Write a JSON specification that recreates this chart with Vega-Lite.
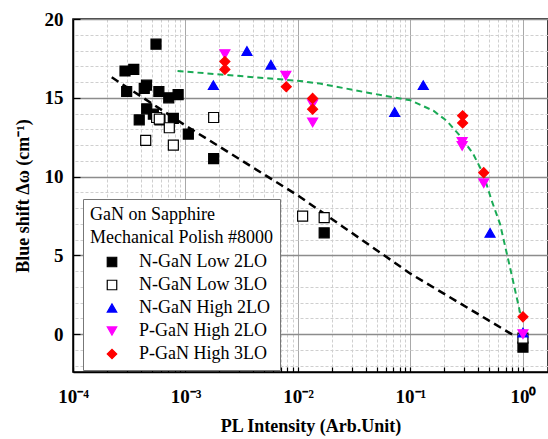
{
  "$schema": "https://vega.github.io/schema/vega-lite/v6.json",
  "width": 475,
  "height": 353,
  "autosize": "none",
  "padding": {"left": 73, "top": 19, "right": 0, "bottom": 67},
  "background": "white",
  "view": {"stroke": "black", "strokeWidth": 1.5},
  "resolve": {"axis": {"y": "independent"}},
  "datasets": {
    "pts": [
      {"series": "N-GaN Low 2LO", "x": 0.000547, "y": 18.4},
      {"series": "N-GaN Low 2LO", "x": 0.00029, "y": 16.7},
      {"series": "N-GaN Low 2LO", "x": 0.000347, "y": 16.8},
      {"series": "N-GaN Low 2LO", "x": 0.0003, "y": 15.4},
      {"series": "N-GaN Low 2LO", "x": 0.00043, "y": 15.6},
      {"series": "N-GaN Low 2LO", "x": 0.00045, "y": 15.8},
      {"series": "N-GaN Low 2LO", "x": 0.00058, "y": 15.4},
      {"series": "N-GaN Low 2LO", "x": 0.00071, "y": 15.0},
      {"series": "N-GaN Low 2LO", "x": 0.00086, "y": 15.2},
      {"series": "N-GaN Low 2LO", "x": 0.000452, "y": 14.3},
      {"series": "N-GaN Low 2LO", "x": 0.000388, "y": 13.6},
      {"series": "N-GaN Low 2LO", "x": 0.000518, "y": 13.96},
      {"series": "N-GaN Low 2LO", "x": 0.000593, "y": 13.6},
      {"series": "N-GaN Low 2LO", "x": 0.00078, "y": 13.7},
      {"series": "N-GaN Low 2LO", "x": 0.00106, "y": 12.7},
      {"series": "N-GaN Low 2LO", "x": 0.00178, "y": 11.14},
      {"series": "N-GaN Low 2LO", "x": 0.0171, "y": 6.43},
      {"series": "N-GaN Low 2LO", "x": 1.0, "y": -0.82},
      {"series": "N-GaN Low 3LO", "x": 0.000554, "y": 13.75},
      {"series": "N-GaN Low 3LO", "x": 0.000585, "y": 13.65},
      {"series": "N-GaN Low 3LO", "x": 0.000718, "y": 13.1},
      {"series": "N-GaN Low 3LO", "x": 0.000443, "y": 12.3},
      {"series": "N-GaN Low 3LO", "x": 0.00078, "y": 12.0},
      {"series": "N-GaN Low 3LO", "x": 0.00178, "y": 13.75},
      {"series": "N-GaN Low 3LO", "x": 0.011, "y": 7.49},
      {"series": "N-GaN Low 3LO", "x": 0.0171, "y": 7.4},
      {"series": "N-GaN Low 3LO", "x": 1.0, "y": -0.25},
      {"series": "N-GaN High 2LO", "x": 0.00177, "y": 15.8},
      {"series": "N-GaN High 2LO", "x": 0.00352, "y": 17.97},
      {"series": "N-GaN High 2LO", "x": 0.00575, "y": 17.1},
      {"series": "N-GaN High 2LO", "x": 0.0724, "y": 14.1},
      {"series": "N-GaN High 2LO", "x": 0.13, "y": 15.8},
      {"series": "N-GaN High 2LO", "x": 0.51, "y": 6.43},
      {"series": "N-GaN High 2LO", "x": 1.0, "y": 0.1},
      {"series": "P-GaN High 2LO", "x": 0.00224, "y": 17.77},
      {"series": "P-GaN High 2LO", "x": 0.0078, "y": 16.4},
      {"series": "P-GaN High 2LO", "x": 0.0135, "y": 14.6},
      {"series": "P-GaN High 2LO", "x": 0.0135, "y": 13.44},
      {"series": "P-GaN High 2LO", "x": 0.288, "y": 12.2},
      {"series": "P-GaN High 2LO", "x": 0.288, "y": 11.95},
      {"series": "P-GaN High 2LO", "x": 0.448, "y": 9.58},
      {"series": "P-GaN High 2LO", "x": 1.0, "y": 0.0},
      {"series": "P-GaN High 3LO", "x": 0.00224, "y": 17.3},
      {"series": "P-GaN High 3LO", "x": 0.00224, "y": 16.8},
      {"series": "P-GaN High 3LO", "x": 0.00787, "y": 15.7},
      {"series": "P-GaN High 3LO", "x": 0.0135, "y": 14.96},
      {"series": "P-GaN High 3LO", "x": 0.0135, "y": 14.28},
      {"series": "P-GaN High 3LO", "x": 0.291, "y": 13.86},
      {"series": "P-GaN High 3LO", "x": 0.291, "y": 13.4},
      {"series": "P-GaN High 3LO", "x": 0.448, "y": 10.25},
      {"series": "P-GaN High 3LO", "x": 1.0, "y": 1.1}
    ],
    "green": [
      {"x": 0.00085, "y": 16.7},
      {"x": 0.0104, "y": 16.07},
      {"x": 0.0157, "y": 15.9},
      {"x": 0.0407, "y": 15.34},
      {"x": 0.1, "y": 14.84},
      {"x": 0.16, "y": 14.18},
      {"x": 0.21, "y": 13.54},
      {"x": 0.275, "y": 12.6},
      {"x": 0.361, "y": 11.44},
      {"x": 0.444, "y": 10.17},
      {"x": 0.527, "y": 8.48},
      {"x": 0.625, "y": 7.0},
      {"x": 0.766, "y": 4.26},
      {"x": 0.94, "y": 1.41},
      {"x": 1.0, "y": 1.1}
    ],
    "black": [
      {"x": 0.000221, "y": 16.3},
      {"x": 0.00102, "y": 13.2},
      {"x": 0.01, "y": 8.8},
      {"x": 0.1, "y": 3.84},
      {"x": 0.82, "y": -0.06}
    ]
  },
  "config": {
    "font": "Liberation Serif",
    "axis": {
      "labelFont": "Liberation Serif",
      "labelFontWeight": "bold",
      "labelFontSize": 19,
      "labelColor": "black",
      "titleFont": "Liberation Serif",
      "titleFontWeight": "bold",
      "titleFontSize": 18,
      "titleColor": "black",
      "domainColor": "black",
      "domainWidth": 1.5,
      "tickColor": "black",
      "tickWidth": 1.2,
      "tickSize": -5,
      "gridWidth": 1
    }
  },
  "layer": [
    {
      "data": {"name": "green"},
      "mark": {"type": "line", "color": "#1aaa55", "strokeWidth": 2, "strokeDash": [6, 4]},
      "encoding": {
        "x": {
          "field": "x", "type": "quantitative",
          "scale": {"type": "log", "domain": [0.0001, 1.67], "nice": false},
          "axis": {
            "title": "PL Intensity (Arb.Unit)",
            "titlePadding": 11,
            "values": [0.0001, 0.0002, 0.0003, 0.0004, 0.0005, 0.0006, 0.0007, 0.0008, 0.0009, 0.001, 0.002, 0.003, 0.004, 0.005, 0.006, 0.007, 0.008, 0.009, 0.01, 0.02, 0.03, 0.04, 0.05, 0.06, 0.07, 0.08, 0.09, 0.1, 0.2, 0.3, 0.4, 0.5, 0.6, 0.7, 0.8, 0.9, 1],
            "labelExpr": "datum.value == 0.0001 ? '10⁻⁴' : datum.value == 0.001 ? '10⁻³' : datum.value == 0.01 ? '10⁻²' : datum.value == 0.1 ? '10⁻¹' : datum.value == 1 ? '10⁰' : ''",
            "labelPadding": 20,
            "labelFlush": false,
            "labelOverlap": false,
            "grid": true,
            "gridColor": {"condition": {"test": "datum.value == 0.0001 || datum.value == 0.001 || datum.value == 0.01 || datum.value == 0.1 || datum.value == 1", "value": "#8c8c8c"}, "value": "#cfcfcf"},
            "gridDash": {"condition": {"test": "datum.value == 0.0001 || datum.value == 0.001 || datum.value == 0.01 || datum.value == 0.1 || datum.value == 1", "value": [1, 0]}, "value": [3, 2]}
          }
        },
        "y": {
          "field": "y", "type": "quantitative",
          "scale": {"domain": [-2.4, 20], "nice": false, "zero": false},
          "axis": {
            "orient": "left",
            "title": "Blue shift Δω (cm⁻¹)",
            "titlePadding": 12,
            "values": [0, 5, 10, 15, 20],
            "labelPadding": 17,
            "labelFlush": false,
            "labelOverlap": false,
            "tickSize": -7,
            "grid": true,
            "gridColor": "#8c8c8c",
            "gridWidth": 1.3
          }
        }
      }
    },
    {
      "data": {"name": "black"},
      "mark": {"type": "line", "color": "black", "strokeWidth": 2.5, "strokeDash": [8, 5]},
      "encoding": {
        "x": {"field": "x", "type": "quantitative"},
        "y": {
          "field": "y", "type": "quantitative",
          "axis": {
            "orient": "right",
            "title": null,
            "values": [-2, -1, 1, 2, 3, 4, 6, 7, 8, 9, 11, 12, 13, 14, 16, 17, 18, 19],
            "labels": false,
            "ticks": false,
            "domain": false,
            "grid": true,
            "gridColor": "#cfcfcf",
            "gridDash": [3, 2]
          }
        }
      }
    },
    {
      "data": {"name": "pts"},
      "mark": {"type": "point", "filled": false, "size": 100, "strokeWidth": 1.2, "opacity": 1},
      "encoding": {
        "x": {"field": "x", "type": "quantitative"},
        "y": {"field": "y", "type": "quantitative", "axis": null},
        "shape": {
          "field": "series", "type": "nominal",
          "scale": {"domain": ["N-GaN Low 2LO", "N-GaN Low 3LO", "N-GaN High 2LO", "P-GaN High 2LO", "P-GaN High 3LO"], "range": ["square", "square", "triangle-up", "triangle-down", "diamond"]},
          "legend": {
            "title": ["GaN on Sapphire", "Mechanical Polish #8000"],
            "orient": "none",
            "legendX": 10,
            "legendY": 180,
            "padding": 7,
            "strokeColor": "#777777",
            "fillColor": "white",
            "titleFont": "Liberation Serif",
            "titleFontWeight": "normal",
            "titleFontSize": 18,
            "titleColor": "black",
            "titleLimit": 400,
            "titleLineHeight": 23,
            "titlePadding": 6,
            "labelFont": "Liberation Serif",
            "labelFontSize": 18,
            "labelColor": "black",
            "labelLimit": 400,
            "labelOffset": 18,
            "symbolOffset": 13,
            "symbolSize": 90,
            "symbolStrokeWidth": 1.2,
            "rowPadding": 5
          }
        },
        "fill": {
          "field": "series", "type": "nominal",
          "scale": {"domain": ["N-GaN Low 2LO", "N-GaN Low 3LO", "N-GaN High 2LO", "P-GaN High 2LO", "P-GaN High 3LO"], "range": ["black", "white", "blue", "#ff00ff", "red"]}
        },
        "stroke": {
          "field": "series", "type": "nominal",
          "scale": {"domain": ["N-GaN Low 2LO", "N-GaN Low 3LO", "N-GaN High 2LO", "P-GaN High 2LO", "P-GaN High 3LO"], "range": ["black", "black", "blue", "#ff00ff", "red"]}
        }
      }
    }
  ]
}
